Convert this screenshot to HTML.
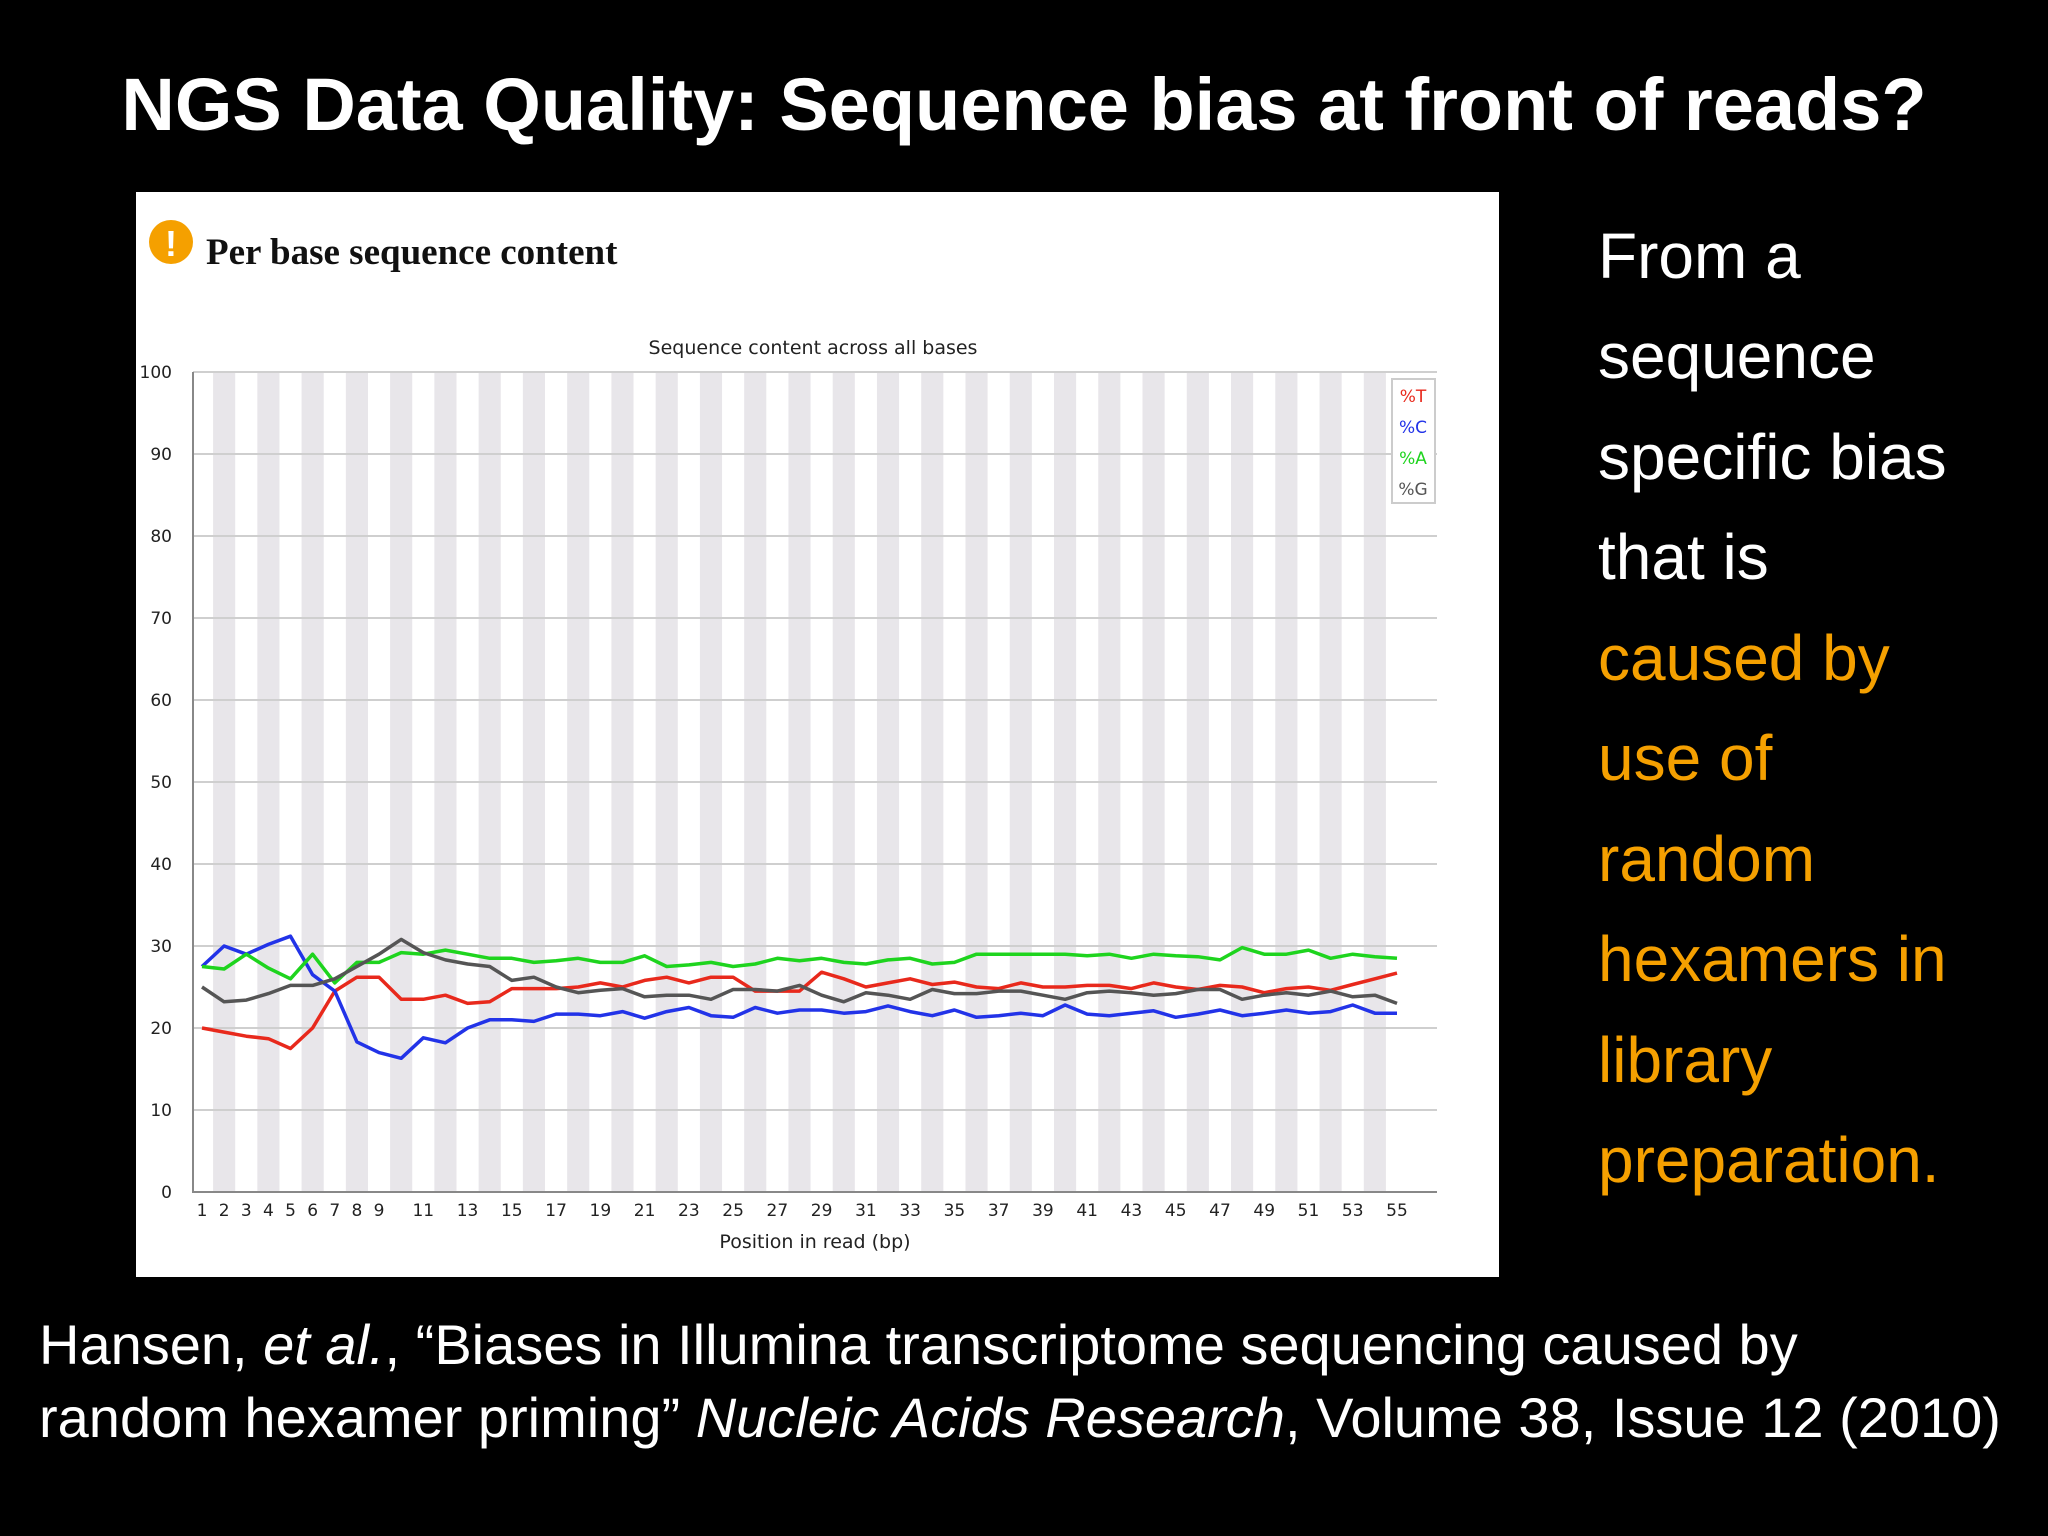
<!DOCTYPE html>
<html><head><meta charset="utf-8"><style>
html,body{margin:0;padding:0;background:#000;width:2048px;height:1536px;overflow:hidden}
svg{display:block}
</style></head><body>
<svg id="s" width="2048" height="1536" viewBox="0 0 2048 1536" xmlns="http://www.w3.org/2000/svg">
<rect x="0" y="0" width="2048" height="1536" fill="#000"/>
<text x="1024" y="130" text-anchor="middle" fill="#fff" font-family="Liberation Sans, sans-serif" font-weight="bold" font-size="74">NGS Data Quality: Sequence bias at front of reads?</text>
<rect x="136" y="192" width="1363" height="1085" fill="#fff"/>
<circle cx="171" cy="242" r="22" fill="#f5a000"/>
<text x="171" y="256" text-anchor="middle" fill="#fff" font-family="Liberation Sans, sans-serif" font-weight="bold" font-size="36">!</text>
<text x="206" y="264" fill="#111" font-family="Liberation Serif, serif" font-weight="bold" font-size="37">Per base sequence content</text>
<text x="813" y="354" text-anchor="middle" fill="#222" font-family="DejaVu Sans, sans-serif" font-size="19">Sequence content across all bases</text>
<g id="plot"></g>
<text x="815" y="1248" text-anchor="middle" fill="#222" font-family="DejaVu Sans, sans-serif" font-size="19">Position in read (bp)</text>
<g font-family="Liberation Sans, sans-serif" font-size="64" fill="#fff">
<text x="1598" y="278">From a</text>
<text x="1598" y="378">sequence</text>
<text x="1598" y="479">specific bias</text>
<text x="1598" y="579">that is</text>
<text x="1598" y="680" fill="#f5a000">caused by</text>
<text x="1598" y="780" fill="#f5a000">use of</text>
<text x="1598" y="881" fill="#f5a000">random</text>
<text x="1598" y="981" fill="#f5a000">hexamers in</text>
<text x="1598" y="1082" fill="#f5a000">library</text>
<text x="1598" y="1182" fill="#f5a000">preparation.</text>
</g>
<g font-family="Liberation Sans, sans-serif" font-size="56" fill="#fff">
<text x="39" y="1364">Hansen, <tspan font-style="italic">et al.</tspan>, “Biases in Illumina transcriptome sequencing caused by</text>
<text x="39" y="1437">random hexamer priming” <tspan font-style="italic">Nucleic Acids Research</tspan>, Volume 38, Issue 12 (2010)</text>
</g>
</svg>
<script>
const positions = Array.from({length:55},(_,i)=>i+1);
const seriesT = [20,19.5,19,18.7,17.5,20,24.5,26.2,26.2,23.5,23.5,24,23,23.2,24.8,24.8,24.8,25,25.5,25,25.8,26.2,25.5,26.2,26.2,24.5,24.5,24.5,26.8,26,25,25.5,26,25.3,25.6,25,24.8,25.5,25,25,25.2,25.2,24.8,25.5,25,24.7,25.2,25,24.3,24.8,25,24.6,25.3,26,26.7];
const seriesC = [27.5,30,29,30.2,31.2,26.5,24.5,18.3,17,16.3,18.8,18.2,20,21,21,20.8,21.7,21.7,21.5,22,21.2,22,22.5,21.5,21.3,22.5,21.8,22.2,22.2,21.8,22,22.7,22,21.5,22.2,21.3,21.5,21.8,21.5,22.8,21.7,21.5,21.8,22.1,21.3,21.7,22.2,21.5,21.8,22.2,21.8,22,22.8,21.8,21.8];
const seriesA = [27.5,27.2,29,27.3,26,29,25.5,28,28,29.2,29,29.5,29,28.5,28.5,28,28.2,28.5,28,28,28.8,27.5,27.7,28,27.5,27.8,28.5,28.2,28.5,28,27.8,28.3,28.5,27.8,28,29,29,29,29,29,28.8,29,28.5,29,28.8,28.7,28.3,29.8,29,29,29.5,28.5,29,28.7,28.5];
const seriesG = [25,23.2,23.4,24.2,25.2,25.2,26,27.5,29,30.8,29.2,28.3,27.8,27.5,25.8,26.2,25,24.3,24.6,24.8,23.8,24,24,23.5,24.7,24.7,24.5,25.2,24,23.2,24.3,24,23.5,24.7,24.2,24.2,24.5,24.5,24,23.5,24.3,24.5,24.3,24,24.2,24.7,24.7,23.5,24,24.3,24,24.5,23.8,24,23];
const yTicks = [0,10,20,30,40,50,60,70,80,90,100];
const xTickLabels = [1,2,3,4,5,6,7,8,9,11,13,15,17,19,21,23,25,27,29,31,33,35,37,39,41,43,45,47,49,51,53,55];
const legendLabels = ['%T','%C','%A','%G'];
const NS='http://www.w3.org/2000/svg';
const g=document.getElementById('plot');
const X0=193,X1=1437,Y0=1192,Y1=372,step=(1397-202)/54;
const xs=p=>202+(p-1)*step;
const ys=v=>Y0-(v/100)*(Y0-Y1);
function mk(t,a){const e=document.createElementNS(NS,t);for(const k in a)e.setAttribute(k,a[k]);g.appendChild(e);return e;}
positions.forEach(p=>{ if(p%2===0){const r=mk('rect',{x:xs(p)-step/2,y:Y1,width:step,height:Y0-Y1,fill:'#e8e6ea'});

}});
yTicks.forEach(v=>{const l=mk('line',{x1:X0,x2:X1,y1:ys(v),y2:ys(v),stroke:'#cfcfcf','stroke-width':2});


const t=mk('text',{x:172,y:ys(v)+6,'text-anchor':'end','font-family':'DejaVu Sans, sans-serif','font-size':17,fill:'#222'});t.textContent=v;

});
const ax=mk('path',{d:`M${X0} ${Y1}V${Y0}H${X1}`,fill:'none',stroke:'#888','stroke-width':2});


xTickLabels.forEach(p=>{const t=mk('text',{x:xs(p),y:1216,'text-anchor':'middle','font-family':'DejaVu Sans, sans-serif','font-size':17,fill:'#222'});t.textContent=p;

});
const cols=['#e8291c','#2233e8','#1ed41e','#555555'];
[seriesT,seriesC,seriesA,seriesG].forEach((s,i)=>{const d=s.map((v,j)=>(j?'L':'M')+xs(positions[j]).toFixed(1)+' '+ys(v).toFixed(1)).join('');
const pth=mk('path',{d,fill:'none',stroke:cols[i],'stroke-width':3.5,'stroke-linejoin':'round'});

});
const lb=mk('rect',{x:1392,y:379,width:43,height:124,fill:'#fff',stroke:'#ccc','stroke-width':2});


legendLabels.forEach((l,i)=>{const t=mk('text',{x:1413,y:402+i*31,'text-anchor':'middle','font-family':'DejaVu Sans, sans-serif','font-size':17,fill:cols[i]});t.textContent=l;

});
</script>
</body></html>
